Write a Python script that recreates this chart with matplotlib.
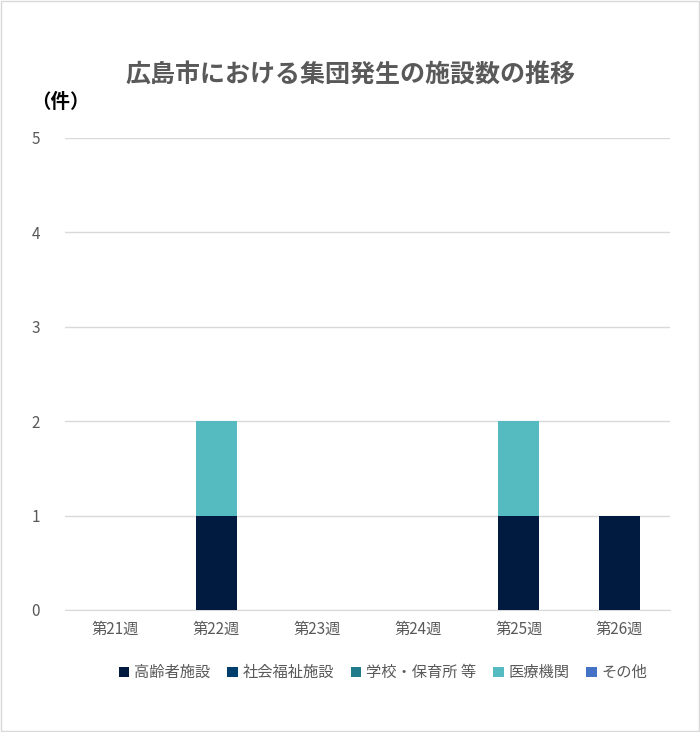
import matplotlib
matplotlib.use("Agg")
import matplotlib.pyplot as plt
from matplotlib.patches import Patch, Rectangle
import numpy as np

plt.rcParams['font.family'] = ['Noto Sans CJK JP', 'DejaVu Sans']

weeks = ["第21週", "第22週", "第23週", "第24週", "第25週", "第26週"]
series_names = ["高齢者施設", "社会福祉施設", "学校・保育所 等", "医療機関", "その他"]
elderly = [0, 1, 0, 0, 1, 1]
welfare = [0, 0, 0, 0, 0, 0]
school = [0, 0, 0, 0, 0, 0]
medical = [0, 1, 0, 0, 1, 0]
other = [0, 0, 0, 0, 0, 0]
colors = ["#001A40", "#003F6B", "#1F7A8C", "#56BBC0", "#4472C4"]
title = "広島市における集団発生の施設数の推移"

fig = plt.figure(figsize=(7.0, 7.32), dpi=100)
ax = fig.add_axes([0.093, 0.1667, 0.864, 0.6448])

x = np.arange(len(weeks))
bottom = np.zeros(len(weeks))
for vals, c, name in zip([elderly, welfare, school, medical, other], colors, series_names):
    v = np.array(vals, dtype=float)
    ax.bar(x, v, bottom=bottom, width=0.41, color=c, label=name, zorder=3)
    bottom += v

ax.set_ylim(0, 5)
ax.set_xlim(-0.5, len(weeks) - 0.5)
ax.set_yticks(range(0, 6))
ax.yaxis.grid(True, color="#D9D9D9", linewidth=1.0, zorder=0)
ax.set_axisbelow(True)
for s in ["top", "right", "left"]:
    ax.spines[s].set_visible(False)
ax.spines["bottom"].set_color("#D9D9D9")
ax.tick_params(axis="both", length=0, colors="#595959", labelsize=11)
ax.tick_params(axis="x", pad=8)
ax.tick_params(axis="y", pad=18)
ax.set_xticks(x)
ax.set_xticklabels(weeks)

fig.text(0.5, 0.8975, title, ha="center", va="center", fontsize=18,
         fontweight="bold", color="#595959")
fig.text(0.045, 0.86, "（件）", ha="left", va="center", fontsize=14,
         fontweight="bold", color="#000000")

handles = [Patch(facecolor=c, edgecolor="none") for c in colors]
fig.legend(handles, series_names, loc="center", bbox_to_anchor=(0.547, 0.081),
           ncol=5, frameon=False, fontsize=11, handlelength=0.7, handleheight=0.7,
           handletextpad=0.3, columnspacing=1.1, labelcolor="#595959")

fig.patches.append(Rectangle((0.001, 0.001), 0.997, 0.997, transform=fig.transFigure,
                             fill=False, edgecolor="#D9D9D9", linewidth=1.0))

fig.savefig("out.png", dpi=100, facecolor="white")
